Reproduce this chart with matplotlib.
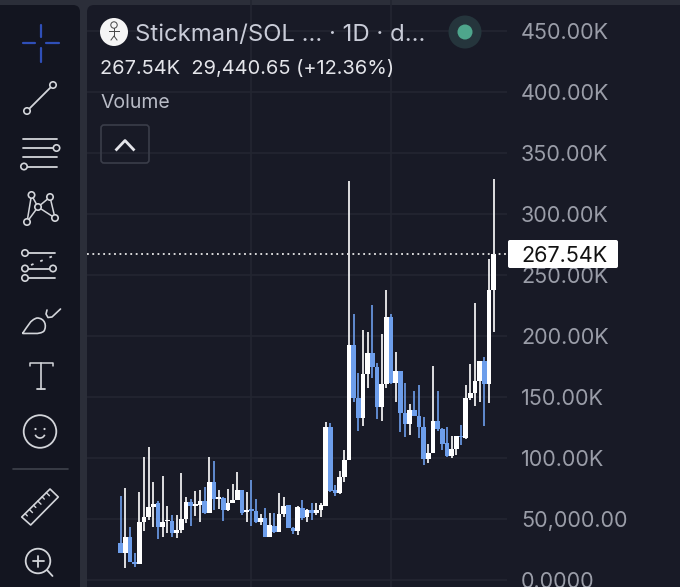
import matplotlib
matplotlib.use("Agg")
import matplotlib.pyplot as plt
from matplotlib.patches import Circle, FancyBboxPatch, Polygon, Arc, PathPatch
from matplotlib.path import Path

plt.rcParams['font.family'] = ['Inter', 'DejaVu Sans']

# candle values, in thousands
opens = [30.1,22.4,35.0,15.0,12.8,47.8,51.4,59.6,62.8,43.7,48.1,48.4,38.3,41.0,50.0,63.9,60.7,61.7,64.8,55.2,
         80.1,66.7,66.9,57.4,63.4,65.6,73.8,55.5,57.9,56.6,47.8,50.5,35.5,44.3,39.3,53.8,61.2,42.9,40.4,59.3,
         51.4,57.4,54.6,57.4,60.7,125.7,73.8,71.0,84.2,98.4,192.6,148.9,132.5,168.6,185.8,174.3,141.5,160.7,215.3,161.2,
         171.3,137.2,127.9,139.3,134.4,125.1,99.5,103.8,130.6,123.5,112.0,101.6,107.1,118.0,116.1,149.5,153.0,162.8,179.2,160.7,237.7]
closes = [21.9,35.0,15.0,12.8,47.5,51.9,59.6,62.3,43.7,47.8,49.2,38.3,41.0,50.0,63.9,60.7,62.3,64.5,55.2,80.1,
          66.1,67.8,57.4,63.4,65.6,73.8,54.6,57.4,56.8,47.8,50.5,35.5,44.8,39.3,54.1,60.7,42.9,40.4,60.1,51.1,
          57.4,54.6,57.4,61.5,125.7,73.2,71.0,84.7,98.4,192.6,148.9,132.5,168.6,185.8,174.3,141.5,160.7,215.3,161.7,171.3,
          137.2,127.9,139.3,134.4,125.1,98.9,104.4,130.6,123.5,111.5,101.6,107.1,118.0,116.9,149.5,153.0,162.8,179.2,160.7,237.7,267.54]
highs = [68.9,75.1,43.2,21.9,71.9,101.1,108.7,80.3,64.8,85.2,60.7,53.6,53.3,87.4,67.8,66.4,73.2,73.8,76.5,101.1,
         97.5,73.8,68.3,74.3,78.7,88.8,73.8,72.4,82.0,66.7,54.1,58.7,54.6,55.2,71.0,68.3,61.5,43.7,60.7,65.6,
         57.9,63.4,63.4,63.4,129.8,129.0,77.9,89.6,106.6,327.3,217.8,169.4,204.9,203.0,225.4,178.1,201.6,237.7,217.8,186.6,
         171.3,161.7,144.3,155.2,159.8,133.9,111.5,175.4,155.2,124.3,125.7,118.0,118.3,126.8,159.8,177.0,226.8,179.2,183.1,262.8,328.4]
lows = [21.9,9.6,15.0,10.9,12.8,40.2,49.2,43.2,33.3,35.5,38.8,35.5,34.2,38.3,47.0,44.3,52.7,47.8,53.8,55.2,
        57.4,57.9,48.6,56.8,62.8,65.6,53.3,47.8,44.3,46.4,45.1,35.5,35.5,38.8,39.3,51.9,42.3,37.7,37.2,49.2,
        47.8,49.2,53.3,51.4,60.7,72.4,68.9,70.5,80.6,98.4,146.2,122.4,126.2,157.1,165.3,131.7,130.6,157.1,160.7,146.2,
        121.6,117.5,118.9,134.4,116.1,94.3,96.2,103.8,122.4,106.6,101.1,100.0,102.5,110.7,115.3,147.5,142.6,146.2,126.2,144.8,203.6]
y_ticks = [0, 50, 100, 150, 200, 250, 300, 350, 400, 450]
y_tick_labels = ["0.0000", "50,000.00", "100.00K", "150.00K", "200.00K", "250.00K",
                 "300.00K", "350.00K", "400.00K", "450.00K"]
x_grid = [28, 58]
last_price = 267.54
last_label = "267.54K"
title = "Stickman/SOL ... · 1D · d..."
ohlc_line = "267.54K  29,440.65 (+12.36%)"
study = "Volume"

W, H = 680, 587
BG_GAP = "#2b2e39"
BG_TOOL = "#131520"
BG_PANEL = "#181a26"
GRID = "#232631"
UP = "#ffffff"
DOWN = "#6d9eeb"
ICON = "#d3d5da"
LABEL = "#9a9da8"
AX_RIGHT = 507

fig = plt.figure(figsize=(W / 100, H / 100), dpi=100, facecolor=BG_GAP)

# chrome layer in pixel coordinates
bg = fig.add_axes([0, 0, 1, 1], zorder=0)
bg.set_xlim(0, W); bg.set_ylim(H, 0); bg.axis("off")
bg.add_patch(FancyBboxPatch((-20, 5), 100, H + 20, boxstyle="round,pad=0,rounding_size=7", fc=BG_TOOL, ec="none"))
bg.add_patch(FancyBboxPatch((87, 5), W + 20, H + 20, boxstyle="round,pad=0,rounding_size=7", fc=BG_PANEL, ec="none"))

# chart
ax = fig.add_axes([87 / W, 0, (AX_RIGHT - 87) / W, 1], zorder=1)
ax.patch.set_alpha(0)
ax.set_ylim(-5.74, 475.4)
ax.set_xlim((87 - 120.7) / 4.66, (AX_RIGHT - 120.7) / 4.66)
for s in ax.spines.values():
    s.set_visible(False)
ax.yaxis.tick_right()
ax.set_yticks(y_ticks, y_tick_labels, fontsize=15.5, color=LABEL)
ax.set_xticks(x_grid, [""] * len(x_grid))
ax.tick_params(axis="both", length=0)
ax.tick_params(axis="y", pad=10)
ax.grid(True, color=GRID, linewidth=1.2)
ax.set_axisbelow(True)

for i, (o, h, l, c) in enumerate(zip(opens, highs, lows, closes)):
    col = UP if c >= o else DOWN
    ax.vlines(i, l, h, color=col, linewidth=1.2, zorder=2 + i * 0.01)
    ax.bar(i, abs(c - o), bottom=min(o, c), width=1.0, color=col, linewidth=0, zorder=2 + i * 0.01)

ax.axhline(last_price, color="#e8e8e8", linewidth=1.3, linestyle=(0, (1, 2)), zorder=5)

# overlay in pixel coordinates
ov = fig.add_axes([0, 0, 1, 1], zorder=3)
ov.set_xlim(0, W); ov.set_ylim(H, 0); ov.axis("off"); ov.patch.set_alpha(0)

ov.add_patch(FancyBboxPatch((508, 240), 110, 28, boxstyle="round,pad=0,rounding_size=2", fc="white", ec="none"))
ov.text(564.5, 255.5, last_label, fontsize=15.5, color="#111111", ha="center", va="center")

ov.text(135, 34.5, title, fontsize=17.2, color="#c9ccd8", va="center")
ov.text(100, 69, ohlc_line, fontsize=14.4, color="#e4e5ea", va="center")
ov.text(100.5, 103.5, study, fontsize=14, color="#b9bcc7", va="center")

# avatar
ov.add_patch(Circle((114, 32), 14, fc="#f5f5f5", ec="none"))
ov.add_patch(Circle((114, 25), 3.2, fc="none", ec="#444", lw=0.7))
ov.plot([114, 114], [28, 36], color="#444", lw=0.7)
ov.plot([109, 119], [30.5, 30.5], color="#444", lw=0.7)
ov.plot([111, 114, 117], [40, 36, 40], color="#444", lw=0.7)

# status dot
ov.add_patch(Circle((465, 32), 16.5, fc="#25353c", ec="none"))
ov.add_patch(Circle((465, 32), 7.5, fc="#4ea68c", ec="none"))

# collapse button
ov.add_patch(FancyBboxPatch((101, 125), 48, 38, boxstyle="round,pad=0,rounding_size=3", fc="none", ec="#3a3d49", lw=1.2))
ov.plot([116.5, 125, 133.5], [149.5, 140.5, 149.5], color="#e4e5ea", lw=2)

# toolbar icons
def ln(xs, ys, color=ICON, lw=1.3, **kw):
    ov.plot(xs, ys, color=color, lw=lw, solid_capstyle="round", **kw)

def ring(x, y, r=3.2, lw=1.2):
    ov.add_patch(Circle((x, y), r, fc=BG_TOOL, ec=ICON, lw=lw, zorder=4))

blue = "#2f4fb8"
ln([23, 35], [43, 43], blue, 1.6); ln([46, 59], [43, 43], blue, 1.6)
ln([41, 41], [25, 37], blue, 1.6); ln([41, 41], [48, 62], blue, 1.6)

ln([27, 53], [111, 85]); ring(27, 111); ring(53, 85)

ln([23, 57], [138.5, 138.5]); ln([23, 56], [148, 148]); ln([23, 57], [157, 157]); ln([24, 57], [166.5, 166.5])
ring(56.5, 148); ring(24, 166.5)

net = [(31.5, 195), (50, 197), (38, 207), (27, 222), (55, 218)]
for a, b in [(0, 3), (0, 2), (2, 3), (2, 1), (2, 4), (1, 4)]:
    ln([net[a][0], net[b][0]], [net[a][1], net[b][1]], lw=1.1)
for p in net:
    ring(p[0], p[1])

ln([25, 55], [253, 253]); ln([25, 53], [268.5, 268.5]); ln([25, 55], [278, 278])
ln([31, 52], [265, 256.5], lw=1.3, linestyle=(0, (1.5, 4)))
ring(25, 253); ring(25, 268.5); ring(53, 268.5); ring(25, 278)

leaf = Path([(22.5, 333.5), (28, 326), (30, 320), (37, 318), (45, 318), (47, 326), (44, 331), (40, 335), (30, 333), (22.5, 333.5)],
            [Path.MOVETO] + [Path.CURVE4] * 9)
ov.add_patch(PathPatch(leaf, fc="none", ec=ICON, lw=1.2))
ln([47, 46, 48, 52, 60.5], [310, 314, 317.5, 317, 309], lw=1.2)

ln([29.5, 29.5, 52.5, 52.5], [366, 362.5, 362.5, 366], lw=1.1)
ln([41, 41], [362.5, 389], lw=1.2); ln([37, 45], [389, 389], lw=1.3)

ov.add_patch(Circle((40, 431.5), 16.3, fc="none", ec=ICON, lw=1.3))
ov.add_patch(Circle((35.5, 429), 1.1, fc=ICON, ec="none"))
ov.add_patch(Circle((44.5, 429), 1.1, fc=ICON, ec="none"))
ov.add_patch(Arc((40, 433), 10, 10, theta1=20, theta2=160, ec=ICON, lw=1.2))

ln([12.5, 68], [469, 469], "#3f424c", 1.2)

ruler = [(21.7, 517), (50, 489), (58.3, 497), (30.7, 525)]
ov.add_patch(Polygon(ruler, closed=True, fc="none", ec=ICON, lw=1.2, joinstyle="round"))
for k, t in enumerate([0.12, 0.27, 0.42, 0.57, 0.72, 0.87]):
    x0 = 21.7 + (50 - 21.7) * t
    y0 = 517 + (489 - 517) * t
    d = 4.5 if k % 2 else 3.2
    ln([x0, x0 + d * 0.7], [y0, y0 + d * 0.7], lw=1.0)

ov.add_patch(Circle((38, 561), 12.3, fc="none", ec=ICON, lw=1.3))
ln([47, 52.5], [570, 576]); ln([32.5, 43.5], [561, 561]); ln([38, 38], [555.5, 566.5])

fig.savefig("out.png", dpi=100, facecolor=fig.get_facecolor())
